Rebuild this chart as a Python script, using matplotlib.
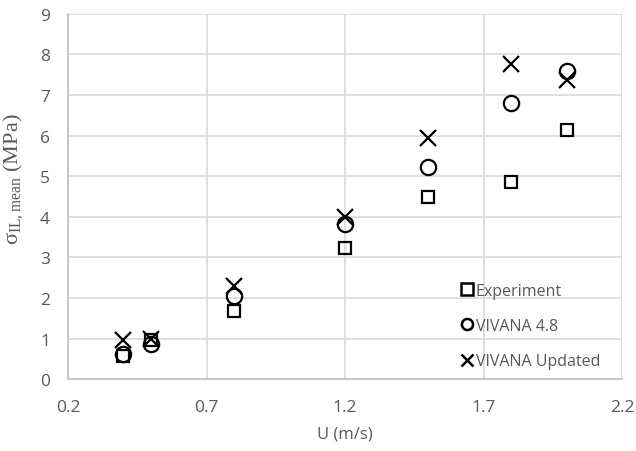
import matplotlib
matplotlib.use('Agg')
import matplotlib.pyplot as plt
from matplotlib.lines import Line2D

# flow speed U (m/s)
u = [0.4, 0.5, 0.8, 1.2, 1.5, 1.8, 2.0]

# mean in-line stress (MPa)
experiment = [0.58, 0.97, 1.69, 3.22, 4.50, 4.85, 6.15]
vivana_48 = [0.62, 0.86, 2.06, 3.82, 5.22, 6.80, 7.59]
vivana_updated = [0.96, 0.99, 2.30, 3.99, 5.93, 7.77, 7.38]

series_names = ['Experiment', 'VIVANA 4.8', 'VIVANA Updated']

xticks = [0.2, 0.7, 1.2, 1.7, 2.2]
yticks = list(range(0, 10))

grey_text = '#595959'
grid_col = '#d9d9d9'

plt.rcParams['font.family'] = ['Open Sans', 'DejaVu Sans']
plt.rcParams['mathtext.fontset'] = 'custom'
plt.rcParams['mathtext.rm'] = 'Liberation Serif'

fig = plt.figure(figsize=(6.36, 4.52), dpi=100)
ax = fig.add_axes([0.107, 0.159, 0.871, 0.808])

ax.plot(u, experiment, linestyle='none', marker='s', markersize=8,
        markerfacecolor='none', markeredgecolor='black', markeredgewidth=1.6,
        zorder=3)
ax.plot(u, vivana_48, linestyle='none', marker='o', markersize=11,
        markerfacecolor='none', markeredgecolor='black', markeredgewidth=1.6,
        zorder=3)
ax.plot(u, vivana_updated, linestyle='none', marker='x', markersize=11,
        color='black', markeredgewidth=1.6, zorder=3)

ax.set_xlim(0.2, 2.2)
ax.set_ylim(0, 9)
ax.set_xticks(xticks)
ax.set_xticklabels([f'{t:.1f}' for t in xticks])
ax.set_yticks(yticks)

ax.grid(True, color=grid_col, linewidth=1.2)
ax.set_axisbelow(True)
for side in ['top', 'right']:
    ax.spines[side].set_visible(False)
for side in ['left', 'bottom']:
    ax.spines[side].set_color('#bfbfbf')
    ax.spines[side].set_linewidth(1.2)
ax.tick_params(length=0, labelsize=12.5, colors=grey_text)
ax.tick_params(axis='x', pad=14)
ax.tick_params(axis='y', pad=13)

ax.set_xlabel('U (m/s)', fontsize=12, color=grey_text, labelpad=8)
ax.set_ylabel(r'$\mathregular{\sigma_{IL,mean}}$ (MPa)', fontsize=16,
              color=grey_text, family='Liberation Serif')
ax.yaxis.set_label_coords(-0.077, 0.55)

# legend markers all drawn at the same small size
handles = [
    Line2D([], [], linestyle='none', marker='s', markersize=8,
           markerfacecolor='none', markeredgecolor='black', markeredgewidth=1.8),
    Line2D([], [], linestyle='none', marker='o', markersize=8,
           markerfacecolor='none', markeredgecolor='black', markeredgewidth=1.8),
    Line2D([], [], linestyle='none', marker='x', markersize=8,
           color='black', markeredgewidth=1.8),
]
leg = ax.legend(handles, series_names, loc='lower right',
                bbox_to_anchor=(0.972, 0.01), frameon=False, fontsize=11.5,
                handletextpad=0.05, labelspacing=1.2, handlelength=1.0,
                borderaxespad=0.0)
for t in leg.get_texts():
    t.set_color(grey_text)

fig.savefig('out.png', dpi=100)
